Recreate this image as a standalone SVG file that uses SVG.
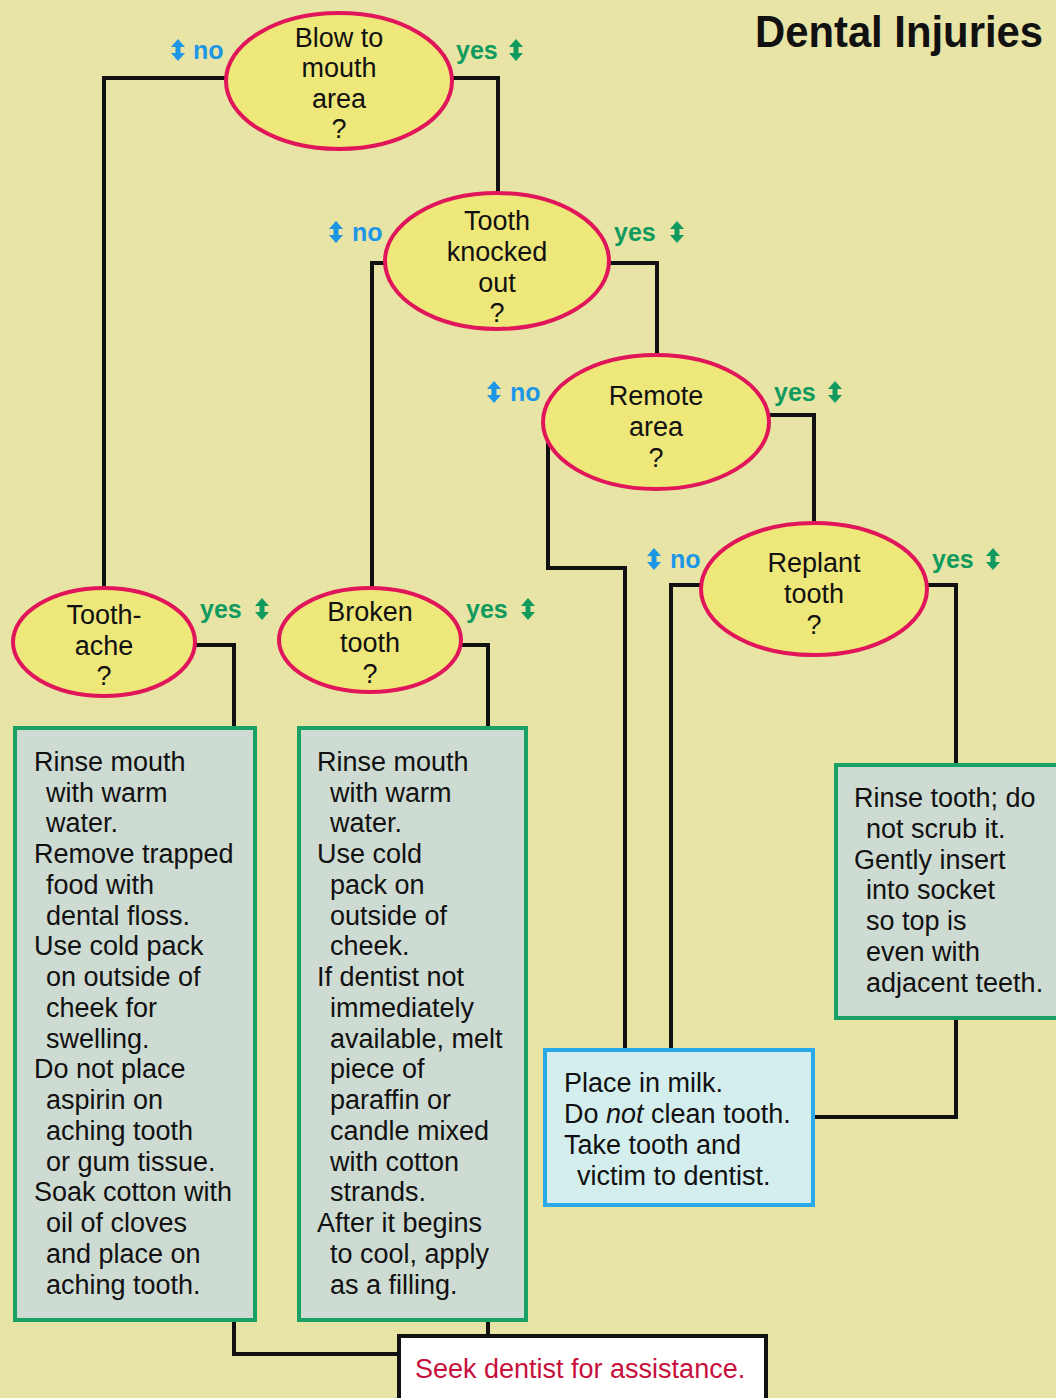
<svg xmlns="http://www.w3.org/2000/svg" width="1056" height="1398" viewBox="0 0 1056 1398">
<style>
  .bg{fill:#E8E4A6}
  .q ellipse{fill:#EEE77A;stroke:#E0155A;stroke-width:4}
  .q text{font-family:"Liberation Sans",Arial,sans-serif;font-size:27px;fill:#111;text-anchor:middle}
  .box rect{fill:#CEDBD2;stroke:#18A065;stroke-width:4}
  .box text, .milk text{font-family:"Liberation Sans",Arial,sans-serif;font-size:27px;fill:#111}
  .milk rect{fill:#D4EEEE;stroke:#2AA8E8;stroke-width:4}
  .seek rect{fill:#FFFFFF;stroke:#111;stroke-width:4}
  .seek text{font-family:"Liberation Sans",Arial,sans-serif;font-size:27px;fill:#C8103C}
  .conn path{fill:none;stroke:#111;stroke-width:4;stroke-linejoin:miter}
  .no{font-family:"Liberation Sans",Arial,sans-serif;font-size:25px;font-weight:bold;fill:#1E96E6}
  .yes{font-family:"Liberation Sans",Arial,sans-serif;font-size:25px;font-weight:bold;fill:#109A5E}
  .title{font-family:"Liberation Sans",Arial,sans-serif;font-size:44px;font-weight:bold;fill:#111}
</style>
<defs>
  <path id="arr" d="M0,-11 L7,-3 L2.5,-3 L2.5,3 L7,3 L0,11 L-7,3 L-2.5,3 L-2.5,-3 L-7,-3 Z"/>
</defs>
<rect class="bg" x="0" y="0" width="1056" height="1398"/>
<text class="title" x="755" y="47" textLength="288" lengthAdjust="spacingAndGlyphs">Dental Injuries</text>

<g id="connectors" class="conn">
  <path d="M226,78 H104 V590"/>
  <path d="M452,78 H498 V194"/>
  <path d="M386,263 H372 V590"/>
  <path d="M609,263 H657 V357"/>
  <path d="M548,443 V568 H625 V1050"/>
  <path d="M769,415 H814 V524"/>
  <path d="M702,585 H671 V1050"/>
  <path d="M926,585 H956 V765"/>
  <path d="M956,1018 V1117 H813"/>
  <path d="M195,645 H234 V728"/>
  <path d="M460,645 H488 V728"/>
  <path d="M234,1320 V1354 H398"/>
  <path d="M488,1320 V1335"/>
</g>

<g id="labels">
  <use href="#arr" x="178" y="50" fill="#1E96E6"/><text class="no" x="193" y="59">no</text>
  <text class="yes" x="456" y="59">yes</text><use href="#arr" x="516" y="50" fill="#109A5E"/>
  <use href="#arr" x="336" y="232" fill="#1E96E6"/><text class="no" x="352" y="241">no</text>
  <text class="yes" x="614" y="241">yes</text><use href="#arr" x="677" y="232" fill="#109A5E"/>
  <use href="#arr" x="494" y="392" fill="#1E96E6"/><text class="no" x="510" y="401">no</text>
  <text class="yes" x="774" y="401">yes</text><use href="#arr" x="835" y="392" fill="#109A5E"/>
  <use href="#arr" x="654" y="559" fill="#1E96E6"/><text class="no" x="670" y="568">no</text>
  <text class="yes" x="932" y="568">yes</text><use href="#arr" x="993" y="559" fill="#109A5E"/>
  <text class="yes" x="200" y="618">yes</text><use href="#arr" x="262" y="609" fill="#109A5E"/>
  <text class="yes" x="466" y="618">yes</text><use href="#arr" x="528" y="609" fill="#109A5E"/>
</g>

<g id="q-blow" class="q">
  <ellipse cx="339" cy="81" rx="113" ry="68"/>
  <text x="339" y="47">Blow to</text><text x="339" y="77">mouth</text><text x="339" y="108">area</text><text x="339" y="138">?</text>
</g>
<g id="q-knocked" class="q">
  <ellipse cx="497" cy="261" rx="112" ry="68"/>
  <text x="497" y="230">Tooth</text><text x="497" y="261">knocked</text><text x="497" y="292">out</text><text x="497" y="322">?</text>
</g>
<g id="q-remote" class="q">
  <ellipse cx="656" cy="422" rx="113" ry="67"/>
  <text x="656" y="405">Remote</text><text x="656" y="436">area</text><text x="656" y="467">?</text>
</g>
<g id="q-replant" class="q">
  <ellipse cx="814" cy="589" rx="113" ry="66"/>
  <text x="814" y="572">Replant</text><text x="814" y="603">tooth</text><text x="814" y="634">?</text>
</g>
<g id="q-toothache" class="q">
  <ellipse cx="104" cy="642" rx="91" ry="54"/>
  <text x="104" y="624">Tooth-</text><text x="104" y="655">ache</text><text x="104" y="685">?</text>
</g>
<g id="q-broken" class="q">
  <ellipse cx="370" cy="640" rx="91" ry="52"/>
  <text x="370" y="621">Broken</text><text x="370" y="652">tooth</text><text x="370" y="683">?</text>
</g>

<g id="box-toothache" class="box">
  <rect x="15" y="728" width="240" height="592"/>
  <text x="34" y="771">Rinse mouth</text>
  <text x="46" y="802">with warm</text>
  <text x="46" y="832">water.</text>
  <text x="34" y="863">Remove trapped</text>
  <text x="46" y="894">food with</text>
  <text x="46" y="925">dental floss.</text>
  <text x="34" y="955">Use cold pack</text>
  <text x="46" y="986">on outside of</text>
  <text x="46" y="1017">cheek for</text>
  <text x="46" y="1048">swelling.</text>
  <text x="34" y="1078">Do not place</text>
  <text x="46" y="1109">aspirin on</text>
  <text x="46" y="1140">aching tooth</text>
  <text x="46" y="1171">or gum tissue.</text>
  <text x="34" y="1201">Soak cotton with</text>
  <text x="46" y="1232">oil of cloves</text>
  <text x="46" y="1263">and place on</text>
  <text x="46" y="1294">aching tooth.</text>
</g>

<g id="box-broken" class="box">
  <rect x="299" y="728" width="227" height="592"/>
  <text x="317" y="771">Rinse mouth</text>
  <text x="330" y="802">with warm</text>
  <text x="330" y="832">water.</text>
  <text x="317" y="863">Use cold</text>
  <text x="330" y="894">pack on</text>
  <text x="330" y="925">outside of</text>
  <text x="330" y="955">cheek.</text>
  <text x="317" y="986">If dentist not</text>
  <text x="330" y="1017">immediately</text>
  <text x="330" y="1048">available, melt</text>
  <text x="330" y="1078">piece of</text>
  <text x="330" y="1109">paraffin or</text>
  <text x="330" y="1140">candle mixed</text>
  <text x="330" y="1171">with cotton</text>
  <text x="330" y="1201">strands.</text>
  <text x="317" y="1232">After it begins</text>
  <text x="330" y="1263">to cool, apply</text>
  <text x="330" y="1294">as a filling.</text>
</g>

<g id="box-replant" class="box">
  <rect x="836" y="765" width="226" height="253"/>
  <text x="854" y="807">Rinse tooth; do</text>
  <text x="866" y="838">not scrub it.</text>
  <text x="854" y="869">Gently insert</text>
  <text x="866" y="899">into socket</text>
  <text x="866" y="930">so top is</text>
  <text x="866" y="961">even with</text>
  <text x="866" y="992">adjacent teeth.</text>
</g>

<g id="box-milk" class="milk">
  <rect x="545" y="1050" width="268" height="155"/>
  <text x="564" y="1092">Place in milk.</text>
  <text x="564" y="1123">Do <tspan font-style="italic">not</tspan> clean tooth.</text>
  <text x="564" y="1154">Take tooth and</text>
  <text x="577" y="1185">victim to dentist.</text>
</g>

<g id="box-seek" class="seek">
  <rect x="399" y="1336" width="367" height="70"/>
  <text x="415" y="1378">Seek dentist for assistance.</text>
</g>
</svg>
